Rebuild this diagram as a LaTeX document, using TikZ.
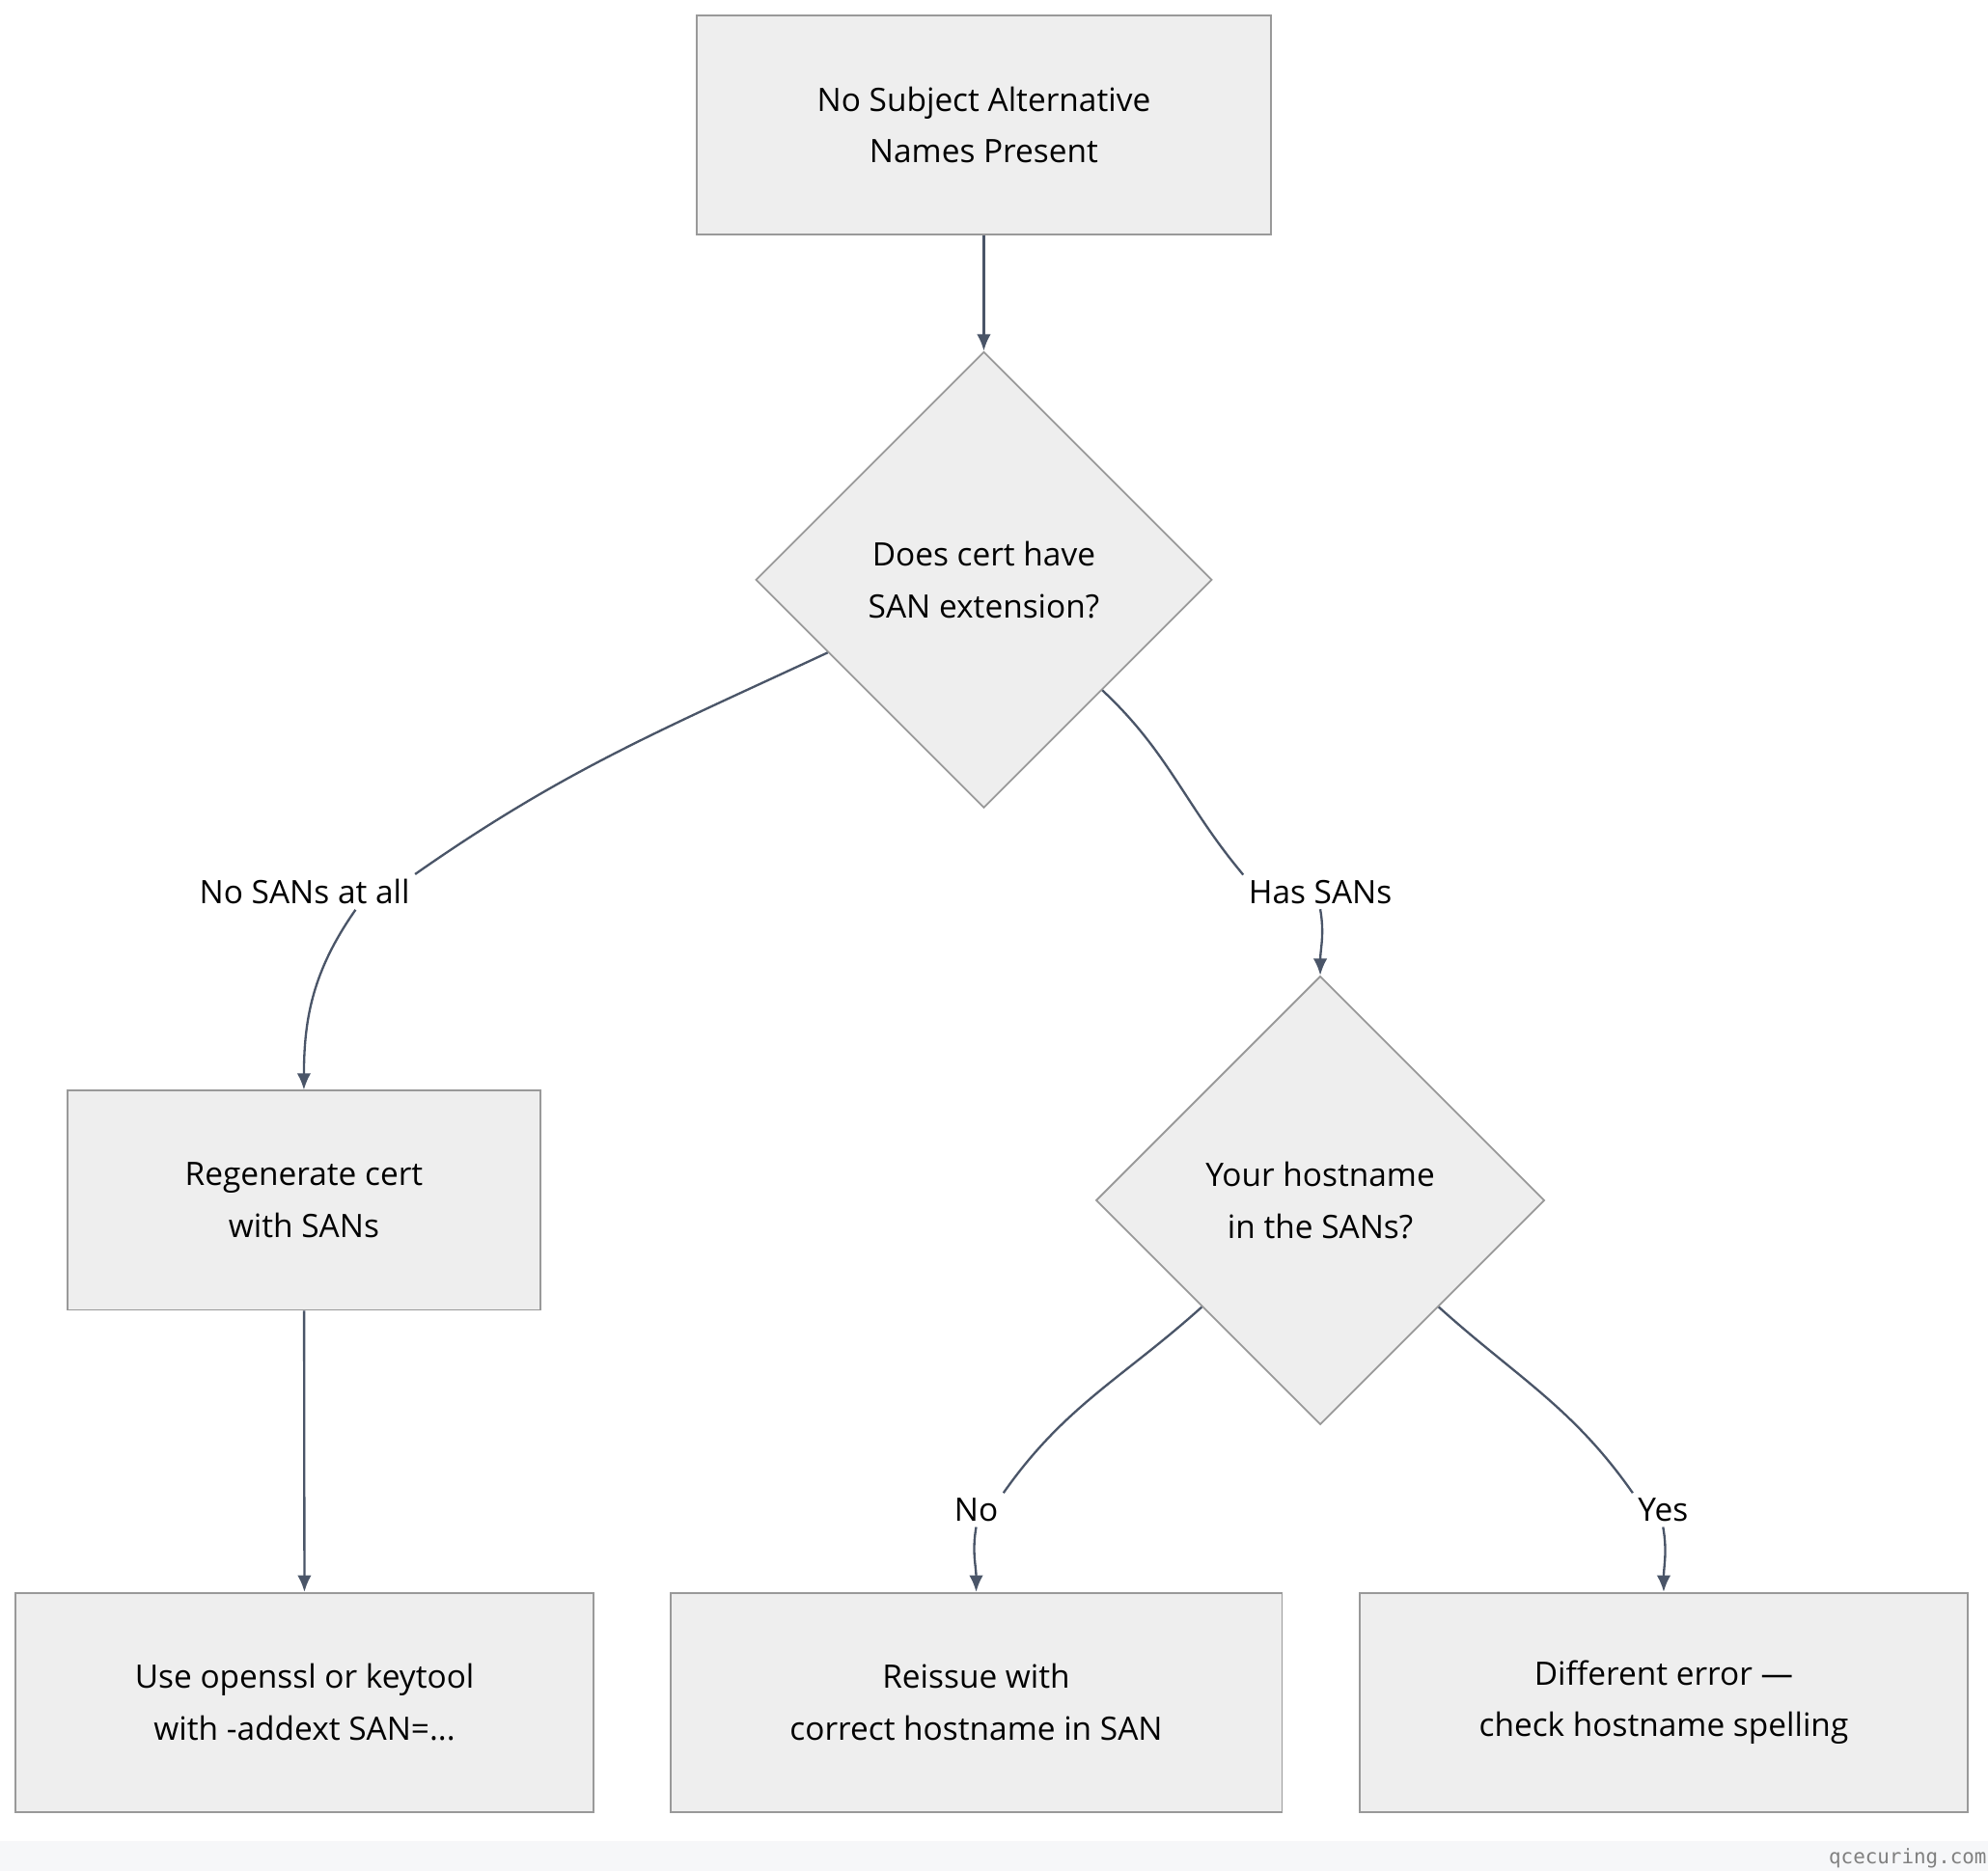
\documentclass[tikz,border=0pt]{standalone}
\usepackage{fontspec}
\setmainfont{Open Sans}
\setmonofont{DejaVu Sans Mono}
\usetikzlibrary{shapes.geometric,arrows.meta}
\definecolor{boxfill}{RGB}{238,238,238}
\definecolor{boxline}{RGB}{153,153,153}
\definecolor{edge}{RGB}{74,85,104}
\definecolor{footer}{RGB}{246,247,249}
\tikzset{
    box/.style={rectangle, align=center, fill=boxfill, draw=boxline, thin,
        minimum height=1.72cm, font=\fontsize{7.2}{11.6}\selectfont},
    decision/.style={diamond, align=center, fill=boxfill, draw=boxline, thin,
        inner sep=0pt, font=\fontsize{7.2}{11.6}\selectfont},
    lbl/.style={inner sep=1pt, font=\fontsize{7.2}{11.6}\selectfont},
    arrow/.style={draw=edge, line width=0.5pt, -{Latex[length=1.3mm,width=1.1mm]}},
    line/.style={draw=edge, line width=0.5pt},
}
\begin{document}
\begin{tikzpicture}
    \useasboundingbox (0,0) rectangle (15.6,-14.68);
    % footer
    \fill[footer] (0,-14.45) rectangle (15.6,-14.68);
    \node (site) at (14.97,-14.58) [text=gray, font=\ttfamily\fontsize{4.5}{5}\selectfont] {qcecuring.com};

    % nodes
    \node (start) at (7.72,-0.98) [box, minimum width=4.5cm] {No Subject Alternative\\Names Present};
    \node (hassan) at (7.72,-4.55) [decision, minimum width=3.58cm, minimum height=3.58cm] {Does cert have\\SAN extension?};
    \node (regen) at (2.385,-9.42) [box, minimum width=3.71cm] {Regenerate cert\\with SANs};
    \node (inlist) at (10.36,-9.42) [decision, minimum width=3.52cm, minimum height=3.52cm] {Your hostname\\in the SANs?};
    \node (tool) at (2.39,-13.36) [box, minimum width=4.54cm] {Use openssl or keytool\\with -addext SAN=...};
    \node (reissue) at (7.66,-13.36) [box, minimum width=4.8cm] {Reissue with\\correct hostname in SAN};
    \node (other) at (13.055,-13.36) [box, minimum width=4.77cm] {Different error ---\\check hostname spelling};

    % labels
    \node (nosans) at (2.39,-7.0) [lbl] {No SANs at all};
    \node (yessans) at (10.36,-7.0) [lbl] {Has SANs};
    \node (no) at (7.66,-11.85) [lbl] {No};
    \node (yes) at (13.05,-11.85) [lbl] {Yes};

    % arrows
    \draw [arrow] (start) -- (hassan);
    \draw [line] (hassan.205) to[out=205,in=35] (nosans.north east);
    \draw [arrow] (nosans.south) ++(0.4,0) coordinate (n1) (n1) to[out=-125,in=90] (regen.north);
    \draw [line] (hassan.-43) to[out=-43,in=130] (yessans.north west);
    \draw [arrow] (yessans.south) to[out=-80,in=90] (inlist.north);
    \draw [arrow] (regen) -- (tool);
    \draw [line] (inlist.222) to[out=222,in=55] (no.north east);
    \draw [arrow] (no.south) to[out=-100,in=90] (reissue.north);
    \draw [line] (inlist.-42) to[out=-42,in=125] (yes.north west);
    \draw [arrow] (yes.south) to[out=-80,in=90] (other.north);
\end{tikzpicture}
\end{document}
